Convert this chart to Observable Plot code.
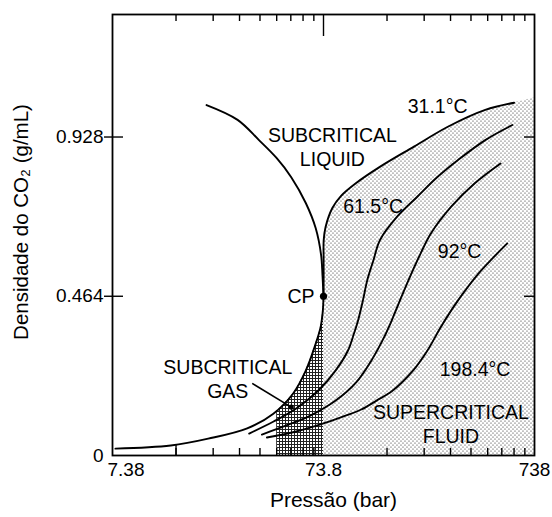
<!DOCTYPE html>
<html><head><meta charset="utf-8">
<script src="https://cdn.jsdelivr.net/npm/d3@7"></script>
<script src="https://cdn.jsdelivr.net/npm/@observablehq/plot@0.6"></script>
<style>
body{margin:0;background:#fff;}
#chart svg{display:block;}
</style>
</head><body><div id="chart"></div>
<script>
const FONT = '"Liberation Sans", Arial, Helvetica, sans-serif';

// ---- data: pressure (bar) and density (g/mL) ----
const liquidP = [20.6, 28.9, 36.5, 44.2, 51.9, 60.9, 67.8, 71.9, 73.0, 73.8];
const liquidD = [1.021, 0.978, 0.919, 0.867, 0.811, 0.735, 0.662, 0.584, 0.525, 0.464];

const iso31P = [7.62, 13.95, 20.97, 32.1, 42.7, 52.9, 60.9, 67.8, 71.5, 73.3, 73.8, 73.9, 73.95, 75.5, 81.3, 89.2, 105.4, 136.5, 198, 286.7, 431.3, 590.8];
const iso31D = [0.020, 0.029, 0.049, 0.079, 0.122, 0.180, 0.248, 0.326, 0.374, 0.423, 0.464, 0.569, 0.627, 0.666, 0.721, 0.756, 0.794, 0.841, 0.900, 0.958, 1.007, 1.028];

const iso61P = [32.8, 42.8, 54.8, 70.0, 84.3, 96.4, 103.0, 107.7, 113.5, 119.0, 127.3, 136.5, 164.4, 205.4, 256.5, 320.4, 431.3, 579.8];
const iso61D = [0.064, 0.099, 0.137, 0.190, 0.248, 0.306, 0.356, 0.394, 0.452, 0.511, 0.569, 0.627, 0.695, 0.754, 0.812, 0.861, 0.919, 0.963];

const iso92P = [37.7, 49.2, 62.9, 84.3, 105.4, 124.5, 140.7, 155.5, 170.0, 190.0, 213.1, 238.2, 297.4, 385.8, 509.5];
const iso92D = [0.061, 0.0875, 0.114, 0.160, 0.213, 0.277, 0.336, 0.394, 0.452, 0.522, 0.589, 0.647, 0.725, 0.794, 0.851];

const iso198P = [39.8, 54.8, 71.5, 89.2, 111.4, 131.6, 155.5, 196.4, 229.5, 265.2, 320.4, 400.3, 467.8, 548.3];
const iso198D = [0.0525, 0.070, 0.0905, 0.111, 0.134, 0.160, 0.187, 0.248, 0.306, 0.374, 0.452, 0.530, 0.575, 0.618];

// supercritical (stippled) region: upper edge
const shadeP = [73.8, 75.5, 81.3, 89.2, 105.4, 136.5, 198, 286.7, 431.3, 590.8, 738];
const shadeTop = [0.627, 0.666, 0.721, 0.756, 0.794, 0.841, 0.900, 0.958, 1.007, 1.028, 1.042];

// subcritical gas (dense hatch) region: upper edge
const gasP = [44.28, 52.9, 60.9, 67.8, 71.5, 73.3, 73.8];
const gasTop = [0.128, 0.180, 0.248, 0.326, 0.374, 0.423, 0.464];

const criticalPoint = [{p: 73.8, d: 0.464, t: "CP"}];
const gasArrow = [{p1: 33.9, d1: 0.210, p2: 51.9, d2: 0.141}];

const labelText = ["31.1°C", "SUBCRITICAL\nLIQUID", "61.5°C", "92°C", "SUBCRITICAL\nGAS", "198.4°C", "SUPERCRITICAL\nFLUID"];
const labelP = [256.5, 81.3, 126.9, 325.8, 25.96, 385.8, 296.5];
const labelD = [1.020, 0.900, 0.728, 0.597, 0.225, 0.255, 0.0948];

const xTicks = [7.38, 73.8, 738];
const xMinorTicks = [14.76, 22.14, 29.52, 36.9, 44.28, 51.66, 59.04, 66.42, 147.6, 221.4, 295.2, 369, 442.8, 516.6, 590.4, 664.2];
const yTicks = [0, 0.464, 0.928];
const xLabel = "Pressão (bar)";
const yLabel = "Densidade do CO₂ (g/mL)";

const rows = (P, D) => P.map((p, i) => ({p, d: D[i]}));
const labels = labelText.map((t, i) => ({t, p: labelP[i], d: labelD[i]}));

const lineOpts = {x: "p", y: "d", stroke: "#000", strokeWidth: 1.9, curve: "catmull-rom"};
const txt = {fontFamily: FONT, fill: "#000"};

const svg = Plot.plot({
  width: 552,
  height: 517,
  marginLeft: 112,
  marginRight: 18,
  marginTop: 14,
  marginBottom: 62,
  style: {fontFamily: FONT, color: "#000", background: "#fff"},
  x: {type: "log", domain: [7.38, 738]},
  y: {domain: [0, 1.285]},
  marks: [
    Plot.areaY(rows(shadeP, shadeTop), {x: "p", y1: 0, y2: "d", fill: "url(#stipple)", curve: "catmull-rom"}),
    Plot.areaY(rows(gasP, gasTop), {x: "p", y1: 0, y2: "d", fill: "url(#hatch)", curve: "catmull-rom"}),
    Plot.line(rows(liquidP, liquidD), lineOpts),
    Plot.line(rows(iso31P, iso31D), lineOpts),
    Plot.line(rows(iso61P, iso61D), lineOpts),
    Plot.line(rows(iso92P, iso92D), lineOpts),
    Plot.line(rows(iso198P, iso198D), lineOpts),
    Plot.link(gasArrow, {x1: "p1", y1: "d1", x2: "p2", y2: "d2", stroke: "#000", strokeWidth: 1.6}),
    Plot.dot(gasArrow, {x: "p2", y: "d2", r: 2.6, fill: "#000"}),
    Plot.dot(criticalPoint, {x: "p", y: "d", r: 3.6, fill: "#000"}),
    Plot.text(criticalPoint, {x: "p", y: "d", text: "t", textAnchor: "end", dx: -9, fontSize: 19.5, ...txt}),
    Plot.text(labels, {x: "p", y: "d", text: "t", fontSize: 19.5, lineHeight: 1.24, ...txt}),
    // ticks
    Plot.axisX({anchor: "bottom", ticks: xMinorTicks, tickSize: -7, tickFormat: () => "", label: null, strokeWidth: 1.4}),
    Plot.axisX({anchor: "bottom", ticks: [xMinorTicks[0]], tickSize: -11, tickFormat: () => "", label: null, strokeWidth: 1.4}),
    Plot.axisX({anchor: "top", ticks: xMinorTicks, tickSize: -6, tickFormat: () => "", label: null, strokeWidth: 1.4}),
    Plot.axisX({anchor: "top", ticks: [xTicks[1]], tickSize: -21, tickFormat: () => "", label: null, strokeWidth: 1.4}),
    Plot.axisY({anchor: "left", ticks: yTicks.slice(1), tickSize: 8, tickFormat: () => "", label: null, strokeWidth: 1.4}),
    Plot.axisY({anchor: "left", ticks: yTicks.slice(1), tickSize: -11, tickFormat: () => "", label: null, strokeWidth: 1.4}),
    Plot.axisY({anchor: "right", ticks: yTicks.slice(1), tickSize: -11, tickFormat: () => "", label: null, strokeWidth: 1.4}),
    // tick labels
    Plot.axisY({anchor: "left", ticks: yTicks, tickSize: 0, tickPadding: 9, fontSize: 19, tickFormat: d => String(d), label: null}),
    Plot.text(xTicks.slice(0, 1), {x: d => d, text: d => String(d), frameAnchor: "bottom", lineAnchor: "top", textAnchor: "start", dx: -5, dy: 7, fontSize: 19, ...txt}),
    Plot.text(xTicks.slice(1), {x: d => d, text: d => String(d), frameAnchor: "bottom", lineAnchor: "top", dy: 7, fontSize: 19, ...txt}),
    // axis titles
    Plot.text([xLabel], {text: d => d, frameAnchor: "bottom", textAnchor: "middle", dx: 10, dy: 51, fontSize: 21, ...txt}),
    Plot.text([yLabel], {text: d => d, frameAnchor: "left", textAnchor: "middle", rotate: -90, dx: -91, dy: -13, fontSize: 20.5, ...txt}),
    Plot.frame({stroke: "#000", strokeWidth: 1.8})
  ]
});

const defs = d3.select(svg).insert("defs", ":first-child");
const st = defs.append("pattern").attr("id", "stipple").attr("patternUnits", "userSpaceOnUse").attr("width", 4).attr("height", 4);
st.append("rect").attr("width", 4).attr("height", 4).attr("fill", "#fff");
st.append("circle").attr("cx", 1).attr("cy", 1).attr("r", 0.62).attr("fill", "#222");
st.append("circle").attr("cx", 3).attr("cy", 3).attr("r", 0.62).attr("fill", "#222");
const ht = defs.append("pattern").attr("id", "hatch").attr("patternUnits", "userSpaceOnUse").attr("width", 3).attr("height", 3);
ht.append("rect").attr("width", 3).attr("height", 3).attr("fill", "#fff");
ht.append("rect").attr("width", 3).attr("height", 1).attr("fill", "#222");
ht.append("rect").attr("width", 1).attr("height", 3).attr("fill", "#222");

document.getElementById("chart").appendChild(svg);
</script>
</body></html>
